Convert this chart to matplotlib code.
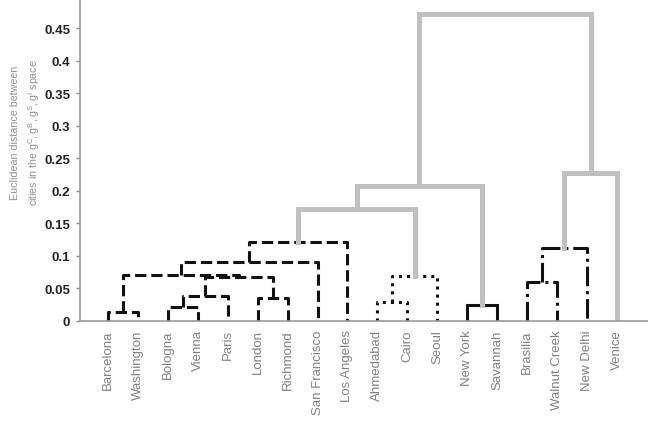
import matplotlib
matplotlib.use("Agg")
import matplotlib.pyplot as plt

plt.rcParams['font.family'] = ['Liberation Sans', 'DejaVu Sans']

# leaf order along the x axis
cities = ["Barcelona", "Washington", "Bologna", "Vienna", "Paris", "London",
          "Richmond", "San Francisco", "Los Angeles", "Ahmedabad", "Cairo",
          "Seoul", "New York", "Savannah", "Brasilia", "Walnut Creek",
          "New Delhi", "Venice"]

# merges: (child a, child b, height); "m<k>" refers to the k-th merge
merge_a = ["Barcelona", "Bologna", "m2", "London", "m3", "m1", "m6", "m7",
           "Ahmedabad", "m9", "m8", "New York", "m11", "Brasilia", "m14",
           "m15", "m13"]
merge_b = ["Washington", "Vienna", "Paris", "Richmond", "m4", "m5",
           "San Francisco", "Los Angeles", "Cairo", "Seoul", "m10",
           "Savannah", "m12", "Walnut Creek", "New Delhi", "Venice", "m16"]
merge_h = [0.014, 0.022, 0.038, 0.035, 0.068, 0.070, 0.091, 0.121,
           0.029, 0.069, 0.172, 0.025, 0.208, 0.060, 0.112, 0.228, 0.472]
merge_style = ["dash", "dash", "dash", "dash", "dash", "dash", "dash", "dash",
               "dot", "dot", "gray", "solid", "gray", "dashdot", "dashdot",
               "gray", "gray"]

styles = {
    "dash": dict(color="#111111", lw=2.2, ls="--"),
    "dot": dict(color="#111111", lw=2.2, ls=":"),
    "dashdot": dict(color="#111111", lw=2.2, ls="-."),
    "solid": dict(color="#111111", lw=2.2, ls="-"),
    "gray": dict(color="#c0c0c0", lw=3.6, ls="-"),
}

fig = plt.figure(figsize=(6.48, 4.27), dpi=100)
ax = fig.add_axes([80 / 648, 105 / 427, 568 / 648, 322 / 427])

pos = {c: i + 1 for i, c in enumerate(cities)}
hgt = {c: 0.0 for c in cities}
for k, (a, b, h, s) in enumerate(zip(merge_a, merge_b, merge_h, merge_style)):
    xa, xb = pos[a], pos[b]
    ax.plot([xa, xa, xb, xb], [hgt[a], h, h, hgt[b]],
            solid_joinstyle="miter", dash_capstyle="butt", zorder=2, **styles[s])
    name = "m%d" % (k + 1)
    pos[name] = (xa + xb) / 2
    hgt[name] = h

ax.set_xlim(0.065, 19.04)
ax.set_ylim(0, 0.495)
ax.set_yticks([0, 0.05, 0.1, 0.15, 0.2, 0.25, 0.3, 0.35, 0.4, 0.45])
ax.set_yticklabels(["0", "0.05", "0.1", "0.15", "0.2", "0.25", "0.3",
                    "0.35", "0.4", "0.45"], fontsize=9.5, fontweight="bold",
                   color="#222222")
ax.set_xticks(range(1, len(cities) + 1))
ax.set_xticklabels(cities, rotation=90, fontsize=9.5, color="#808080",
                   va="top", ha="center")
ax.tick_params(axis="x", length=0, pad=6)
ax.tick_params(axis="y", direction="out", length=3, width=1,
               color="#888888", pad=4)

for side in ["top", "right"]:
    ax.spines[side].set_visible(False)
for side in ["left", "bottom"]:
    ax.spines[side].set_color("#999999")
    ax.spines[side].set_linewidth(1.2)

fig.text(26 / 648, 1 - 133 / 427,
         "Euclidean distance between\n"
         r"cities in the $\mathregular{g^C, g^B, g^S, g^I}$ space",
         rotation=90, ha="center", va="center", fontsize=7.7,
         color="#909090", linespacing=1.5)

fig.savefig("out.png", dpi=100)
